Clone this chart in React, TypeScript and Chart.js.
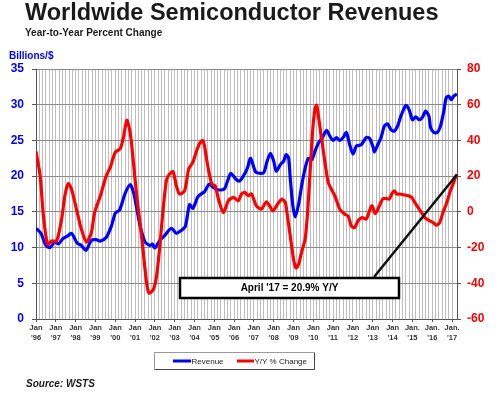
import React, { useEffect, useRef } from 'react';
import { Chart, registerables } from 'chart.js';

Chart.register(...registerables);

// Months since Jan 1996 and monthly revenues (billions of $)
const revMonths = [
  0, 3, 6, 8.5, 11.5, 13.5, 16.5, 19, 21.5, 25, 27.5, 30.3, 33.5, 36.5, 38.8, 42.5, 45.8,
  48, 50.6, 54, 57, 59, 61, 63, 66, 69, 70.5, 72, 75, 78, 82, 85, 88, 90.5, 93, 95, 98,
  100, 102, 105, 107, 110, 114, 116, 118, 121, 123, 125, 128, 130, 133, 136, 138, 140,
  142, 144, 145.5, 148, 150, 151.5, 153, 154, 155.5, 157, 159, 161, 163, 165, 167, 169,
  171, 173.5, 176, 178, 180, 182, 184, 186, 188, 190, 192, 194, 197, 200, 202, 204, 205,
  207, 209, 211, 213, 215, 217, 219, 221, 224, 226, 228, 230, 232, 234, 236, 238, 239,
  241, 243, 245, 247, 248.5, 250, 251.5, 253, 255,
];
const revValues = [
  12.7, 12.0, 10.3, 10.0, 10.8, 10.5, 11.3, 11.6, 12.0, 10.6, 10.3, 9.6, 11.0, 11.1, 10.9, 11.4, 13.1,
  14.8, 15.25, 17.6, 18.8, 17.8, 15.5, 13.1, 10.8, 10.3, 10.5, 9.95, 11.0, 11.7, 12.7, 12.0, 12.4, 13.0, 16.0, 15.5, 17.1,
  17.5, 17.8, 18.9, 18.5, 18.1, 18.2, 19.3, 20.4, 19.6, 19.3, 19.8, 21.1, 22.5, 20.6, 20.4, 20.5, 22.1,
  23.2, 22.1, 20.7, 21.6, 22.1, 23.0, 22.5, 19.7, 16.0, 14.3, 16.0, 18.8, 21.1, 22.5, 22.3, 23.5,
  24.6, 25.4, 26.4, 25.6, 25.0, 25.4, 25.0, 25.4, 26.1, 24.4, 23.1, 24.2, 24.4, 25.4, 25.3, 24.2, 23.4,
  24.4, 25.4, 27.0, 27.3, 26.5, 26.3, 27.0, 28.4, 29.9, 29.3, 27.9, 28.3, 27.9, 28.2, 29.1, 28.4, 26.8,
  26.1, 26.1, 27.0, 29.1, 31.0, 31.2, 30.7, 31.2, 31.5,
];

// Months since Jan 1996 and year-to-year percent change
const yoyMonths = [
  0, 2.5, 4.5, 7, 9.5, 12.5, 15.5, 17.5, 19.5, 21.5, 24.5, 27.5, 30.5, 33.5, 35.5, 39, 42.5,
  45, 48, 51, 53, 55, 57, 59, 61, 63, 65, 67, 68.5, 71, 73, 75, 77, 79, 80.5, 83, 85, 87,
  90, 92.5, 95, 97, 99, 101, 102, 104, 106.5, 108.5, 110.5, 113.5, 116.5, 119.5, 122.5,
  124.5, 126.5, 128.5, 130.5, 133.5, 136.5, 139.5, 141.5, 143.5, 147, 149, 151, 152, 154,
  156, 157.5, 159, 161, 163, 164.5, 166, 167.5, 169, 170, 171, 173, 175, 177, 179, 181, 184,
  187, 189, 191, 193, 195, 197.5, 200, 202, 203.5, 205.5, 208, 210, 212, 214, 215.5, 217,
  218.5, 220.5, 222.5, 225.5, 227.5, 229.5, 231.5, 233.5, 235.5, 237.5, 240.5, 242.5, 244.5,
  246.5, 248.5, 249.5, 251, 253, 254.5, 255,
];
const yoyValues = [
  33.8, 20.3, -2.3, -18.2, -16.3, -16.3, -4.1, 9.0, 15.8, 12.8, 1.5, -9.7, -16.9, -11.7, -0.4, 9, 20,
  25, 33.4, 35.3, 41.9, 51.3, 44.7, 27.8, 9, -6, -22.9, -39.8, -45.5, -43.6, -36, -19.2, 1.5, 17.5, 20.7, 22.5, 14.6, 10,
  11.8, 24, 27.8, 33.4, 38.1, 40, 37.2, 25.9, 15.6, 14.6, 7.2, -0.4, 6.2, 8.1, 6.2,
  10, 10.9, 9, 10, 3.4, 1.5, 5.6, 3.4, 0.6, 5.2, 7.2, 5.2, -0.4, -13.5,
  -26.6, -31.4, -29.5, -22, -15.4, -0.4, 22.1, 44.7, 57.9, 59.7, 54.1, 41, 27.8, 16.5, 12.5, 9, 1.5,
  -1.3, -2.3, -7.9, -8.8, -5.1, -3.2, -4.1, 0.5, 3.4, -1, 3.4, 7.2, 7.5, 7.2, 10, 11.8,
  10, 10, 9.6, 9, 8.1, 5.2, 2.4, -0.4, -3.2, -4.5, -6, -7.5, -6,
  -0.4, 4.3, 7.2, 11.8, 16.5, 20.3, 20.9,
];

const xTickTop = [
  'Jan', 'Jan', 'Jan', 'Jan', 'Jan', 'Jan', 'Jan', 'Jan', 'Jan', 'Jan', 'Jan',
  'Jan', 'Jan', 'Jan', 'Jan', 'Jan', 'Jan', 'Jan', 'Jan', 'Jan.', 'Jan.', 'Jan.',
];
const xTickBottom = [
  "'96", "'97", "'98", "'99", "'00", "'01", "'02", "'03", "'04", "'05", "'06",
  "'07", "'08", "'09", "'10", "'11", "'12", "'13", "'14", "'15", "'16", "'17",
];

const TITLE = 'Worldwide Semiconductor Revenues';
const SUBTITLE = 'Year-to-Year Percent Change';
const LEFT_UNIT = 'Billions/$';
const SOURCE = 'Source: WSTS';
const CALLOUT = "April '17 = 20.9% Y/Y";
const SERIES_NAMES = ['Revenue', 'Y/Y % Change'];

const FONT = '"Liberation Sans", Arial, Helvetica, sans-serif';
const BLUE = '#0000ff';
const RED = '#ff0000';

const overlay = {
  id: 'overlay',
  afterDatasetsDraw(chart: any) {
    const ctx = chart.ctx as CanvasRenderingContext2D;
    const xs = chart.scales.x;
    const yr = chart.scales.yR;
    const li = yoyMonths.length - 1;
    const px = xs.getPixelForValue(yoyMonths[li]);
    const py = yr.getPixelForValue(yoyValues[li]);
    ctx.save();
    // callout box
    ctx.fillStyle = '#ffffff';
    ctx.fillRect(180, 278, 219, 20);
    ctx.strokeStyle = '#000000';
    ctx.lineWidth = 2.5;
    ctx.strokeRect(180, 278, 219, 20);
    ctx.fillStyle = '#000000';
    ctx.font = `bold 10px ${FONT}`;
    ctx.textAlign = 'center';
    ctx.textBaseline = 'middle';
    ctx.fillText(CALLOUT, 289.5, 288.5);
    // connector line
    ctx.beginPath();
    ctx.moveTo(374, 277);
    ctx.lineTo(px, py);
    ctx.lineWidth = 2.5;
    ctx.strokeStyle = '#111111';
    ctx.stroke();
    ctx.restore();
  },
  afterDraw(chart: any) {
    const ctx = chart.ctx as CanvasRenderingContext2D;
    ctx.save();
    ctx.textAlign = 'left';
    ctx.textBaseline = 'alphabetic';
    ctx.fillStyle = '#1a1a1a';
    ctx.font = `bold 23.5px ${FONT}`;
    ctx.fillText(TITLE, 25, 20);
    ctx.font = `bold 10px ${FONT}`;
    ctx.fillText(SUBTITLE, 25, 36);
    ctx.fillStyle = BLUE;
    ctx.fillText(LEFT_UNIT, 9, 58.5);
    ctx.fillStyle = '#1a1a1a';
    ctx.font = `italic bold 10px ${FONT}`;
    ctx.fillText(SOURCE, 26, 387);

    // legend
    ctx.fillStyle = '#ffffff';
    ctx.fillRect(154.5, 352.5, 160, 17);
    ctx.strokeStyle = '#9a9a9a';
    ctx.lineWidth = 1;
    ctx.strokeRect(154.5, 352.5, 160, 17);
    ctx.strokeStyle = '#444';
    ctx.beginPath();
    ctx.moveTo(314.5, 353);
    ctx.lineTo(314.5, 369.5);
    ctx.lineTo(155, 369.5);
    ctx.stroke();
    ctx.lineWidth = 3;
    ctx.strokeStyle = BLUE;
    ctx.beginPath();
    ctx.moveTo(173, 361);
    ctx.lineTo(191, 361);
    ctx.stroke();
    ctx.strokeStyle = RED;
    ctx.beginPath();
    ctx.moveTo(237, 361);
    ctx.lineTo(254, 361);
    ctx.stroke();
    ctx.fillStyle = '#222';
    ctx.font = `8px ${FONT}`;
    ctx.textBaseline = 'middle';
    ctx.fillText(SERIES_NAMES[0], 191.5, 361.5);
    ctx.fillText(SERIES_NAMES[1], 254.5, 361.5);
    ctx.restore();
  },
};

export default function App() {
  const ref = useRef<HTMLCanvasElement | null>(null);

  useEffect(() => {
    if (!ref.current) return;
    const revData = revMonths.map((m, i) => ({ x: m, y: revValues[i] }));
    const yoyData = yoyMonths.map((m, i) => ({ x: m, y: yoyValues[i] }));
    const chart = new Chart(ref.current, {
      type: 'line',
      data: {
        datasets: [
          {
            label: SERIES_NAMES[0],
            data: revData,
            yAxisID: 'y',
            borderColor: BLUE,
            borderWidth: 3.2,
            pointRadius: 0,
            tension: 0.25,
            fill: false,
            order: 1,
          },
          {
            label: SERIES_NAMES[1],
            data: yoyData,
            yAxisID: 'yR',
            borderColor: RED,
            borderWidth: 3.2,
            pointRadius: 0,
            tension: 0.25,
            fill: false,
            order: 0,
          },
        ],
      },
      options: {
        responsive: false,
        animation: false,
        events: [],
        layout: { padding: { left: 0, right: 0, top: 69, bottom: 48 } },
        plugins: {
          legend: { display: false },
          tooltip: { enabled: false },
          title: { display: false },
        },
        scales: {
          x: {
            type: 'linear',
            min: 0,
            max: 255,
            afterFit: (s: any) => {
              s.height = 30;
            },
            ticks: {
              stepSize: 2,
              autoSkip: false,
              maxRotation: 0,
              minRotation: 0,
              padding: 1,
              color: '#333333',
              font: { family: FONT, size: 7.5, weight: 'bold', lineHeight: 1.3 },
              callback: (v: any) => {
                const n = Number(v);
                if (n % 12 !== 0) return '';
                const k = n / 12;
                return [xTickTop[k], xTickBottom[k]];
              },
            },
            grid: {
              color: '#bdbdbd',
              lineWidth: 1,
              tickLength: 3,
              tickColor: (c: any) =>
                c.tick && Number(c.tick.value) % 12 === 0 ? '#555555' : 'rgba(0,0,0,0)',
            },
            border: { color: '#555555', width: 1 },
          },
          y: {
            position: 'left',
            min: 0,
            max: 35,
            afterFit: (s: any) => {
              s.width = 36;
            },
            ticks: {
              stepSize: 5,
              color: BLUE,
              padding: 8,
              font: { family: FONT, size: 12, weight: 'bold' },
            },
            grid: { color: '#8a8a8a', lineWidth: 1, tickLength: 4, tickColor: '#555555' },
            border: { color: '#555555', width: 1 },
          },
          yR: {
            position: 'right',
            min: -60,
            max: 80,
            afterFit: (s: any) => {
              s.width = 43;
            },
            ticks: {
              stepSize: 20,
              color: RED,
              padding: 6,
              font: { family: FONT, size: 12, weight: 'bold' },
            },
            grid: { drawOnChartArea: false, tickLength: 4, tickColor: '#555555' },
            border: { color: '#555555', width: 1 },
          },
        },
      },
      plugins: [overlay],
    } as any);
    return () => chart.destroy();
  }, []);

  return (
    <div style={{ position: 'absolute', left: 0, top: 0, width: 500, height: 397, background: '#fff' }}>
      <canvas ref={ref} width={500} height={397} style={{ display: 'block' }} />
    </div>
  );
}
